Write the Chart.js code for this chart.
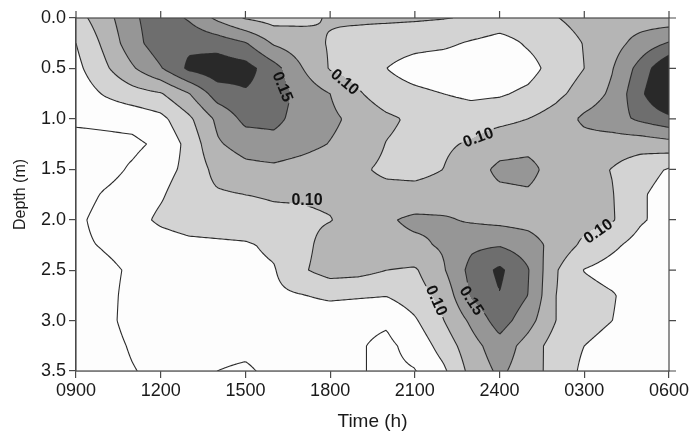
<!DOCTYPE html>
<html>
<head>
<meta charset="utf-8">
<script src="https://cdn.jsdelivr.net/npm/chart.js@4.4.1/dist/chart.umd.min.js"></script>
<style>
  html, body { margin: 0; padding: 0; background: #fff; }
  #wrap { width: 696px; height: 437px; }
</style>
</head>
<body>
<div id="wrap"><canvas id="chart" width="696" height="437"></canvas></div>
<script>
// Grid nodes (time in hours from 0900, depth in m)
const hours = [9, 10, 11, 12, 13, 14, 15, 16, 17, 18, 19, 20, 21, 22, 23, 24, 25, 26, 27, 28, 29, 30];
const depths = [0, 0.25, 0.5, 0.75, 1.0, 1.25, 1.5, 1.75, 2.0, 2.25, 2.5, 2.75, 3.0, 3.25, 3.5];

// Values, one row per depth
const d000 = [0.090, 0.114, 0.145, 0.165, 0.147, 0.120, 0.098, 0.090, 0.095, 0.102, 0.104, 0.104, 0.103, 0.101, 0.098, 0.090, 0.092, 0.099, 0.108, 0.115, 0.112, 0.110];
const d025 = [0.075, 0.105, 0.140, 0.165, 0.170, 0.165, 0.152, 0.122, 0.110, 0.098, 0.090, 0.085, 0.082, 0.080, 0.072, 0.065, 0.078, 0.088, 0.101, 0.115, 0.135, 0.152];
const d050 = [0.068, 0.095, 0.122, 0.148, 0.180, 0.190, 0.185, 0.160, 0.126, 0.098, 0.088, 0.075, 0.065, 0.060, 0.060, 0.060, 0.066, 0.085, 0.100, 0.124, 0.160, 0.200];
const d075 = [0.060, 0.077, 0.090, 0.098, 0.124, 0.162, 0.172, 0.165, 0.140, 0.125, 0.103, 0.085, 0.080, 0.075, 0.070, 0.072, 0.080, 0.094, 0.110, 0.130, 0.170, 0.210];
const d100 = [0.055, 0.056, 0.058, 0.068, 0.095, 0.130, 0.157, 0.158, 0.138, 0.130, 0.118, 0.105, 0.095, 0.090, 0.088, 0.093, 0.100, 0.110, 0.130, 0.140, 0.155, 0.168];
const d125 = [0.040, 0.043, 0.045, 0.055, 0.083, 0.122, 0.135, 0.140, 0.133, 0.124, 0.115, 0.099, 0.092, 0.096, 0.103, 0.115, 0.118, 0.115, 0.115, 0.112, 0.110, 0.115];
const d150 = [0.035, 0.042, 0.053, 0.065, 0.082, 0.108, 0.118, 0.120, 0.115, 0.110, 0.104, 0.095, 0.093, 0.100, 0.115, 0.130, 0.132, 0.115, 0.108, 0.099, 0.085, 0.073];
const d175 = [0.040, 0.052, 0.060, 0.072, 0.090, 0.097, 0.100, 0.102, 0.103, 0.105, 0.108, 0.108, 0.108, 0.110, 0.118, 0.120, 0.122, 0.115, 0.110, 0.101, 0.078, 0.065];
const d200 = [0.045, 0.058, 0.065, 0.080, 0.088, 0.090, 0.092, 0.095, 0.095, 0.099, 0.110, 0.122, 0.130, 0.128, 0.122, 0.118, 0.115, 0.110, 0.108, 0.102, 0.078, 0.065];
const d225 = [0.045, 0.052, 0.058, 0.062, 0.068, 0.070, 0.072, 0.080, 0.093, 0.110, 0.115, 0.118, 0.120, 0.128, 0.145, 0.148, 0.138, 0.115, 0.095, 0.080, 0.065, 0.058];
const d250 = [0.035, 0.045, 0.053, 0.058, 0.062, 0.065, 0.068, 0.073, 0.097, 0.110, 0.108, 0.100, 0.097, 0.122, 0.158, 0.180, 0.152, 0.102, 0.074, 0.065, 0.058, 0.055];
const d275 = [0.035, 0.045, 0.055, 0.060, 0.063, 0.065, 0.067, 0.070, 0.074, 0.080, 0.078, 0.076, 0.088, 0.108, 0.153, 0.174, 0.150, 0.100, 0.085, 0.077, 0.062, 0.055];
const d300 = [0.035, 0.045, 0.056, 0.058, 0.060, 0.060, 0.060, 0.060, 0.060, 0.058, 0.055, 0.053, 0.072, 0.099, 0.130, 0.162, 0.135, 0.100, 0.085, 0.075, 0.062, 0.058];
const d325 = [0.035, 0.043, 0.052, 0.058, 0.058, 0.056, 0.055, 0.058, 0.060, 0.057, 0.052, 0.045, 0.058, 0.085, 0.115, 0.140, 0.115, 0.088, 0.075, 0.065, 0.060, 0.058];
const d350 = [0.035, 0.042, 0.049, 0.055, 0.055, 0.050, 0.047, 0.055, 0.058, 0.056, 0.052, 0.045, 0.049, 0.070, 0.108, 0.130, 0.112, 0.090, 0.070, 0.065, 0.060, 0.058];
const rows = [d000, d025, d050, d075, d100, d125, d150, d175, d200, d225, d250, d275, d300, d325, d350];

const levels = [0.05, 0.075, 0.10, 0.125, 0.15, 0.175];
const timeTicks = [9, 12, 15, 18, 21, 24, 27, 30];
const depthTicks = [0, 0.5, 1.0, 1.5, 2.0, 2.5, 3.0, 3.5];

// contour labels: text, time (h), depth (m)
const labelText = ["0.15", "0.10", "0.10", "0.10", "0.10", "0.10", "0.15"];
const labelTime = [16.33, 18.53, 23.24, 17.18, 27.48, 21.78, 23.02];
const labelDepth = [0.68, 0.63, 1.18, 1.80, 2.11, 2.80, 2.80];

// styles
const bandColors = ["#fdfdfd", "#fdfdfd", "#d3d3d3", "#b5b5b5", "#969696", "#6e6e6e", "#292929"];
const labelAngle = [68, 40, -20, 0, -35, 66, 57];
const lineColor = "#2b2b2b";
const axisColor = "#4a4a4a";
const textColor = "#1a1a1a";
const fontFamily = "Arial, 'Liberation Sans', sans-serif";

function findCell(arr, v) {
  let k = 0;
  while (k < arr.length - 2 && v > arr[k + 1]) k++;
  return k;
}

function valueAt(h, d) {
  const i = findCell(hours, h);
  const j = findCell(depths, d);
  let tx = (h - hours[i]) / (hours[i + 1] - hours[i]);
  let ty = (d - depths[j]) / (depths[j + 1] - depths[j]);
  tx = Math.max(0, Math.min(1, tx));
  ty = Math.max(0, Math.min(1, ty));
  const r0 = rows[j], r1 = rows[j + 1];
  const top = r0[i] * (1 - tx) + r0[i + 1] * tx;
  const bot = r1[i] * (1 - tx) + r1[i + 1] * tx;
  return top * (1 - ty) + bot * ty;
}

function hexToRgb(hex) {
  const n = parseInt(hex.slice(1), 16);
  return [(n >> 16) & 255, (n >> 8) & 255, n & 255];
}

function bandOf(v) {
  let b = 0;
  while (b < levels.length && v >= levels[b]) b++;
  return b;
}

// Filled contours + contour lines + labels, drawn through the chart scales
const contourPlugin = {
  id: "contour",
  beforeDatasetsDraw(chart) {
    const ctx = chart.ctx;
    const area = chart.chartArea;
    const xs = chart.scales.x, ys = chart.scales.y;
    const W = Math.round(area.right - area.left);
    const H = Math.round(area.bottom - area.top);

    // per pixel band fill
    const off = document.createElement("canvas");
    off.width = W; off.height = H;
    const octx = off.getContext("2d");
    const img = octx.createImageData(W, H);
    const rgb = bandColors.map(hexToRgb);
    const colH = [];
    for (let i = 0; i < W; i++) colH.push(xs.getValueForPixel(area.left + i + 0.5));
    for (let j = 0; j < H; j++) {
      const d = ys.getValueForPixel(area.top + j + 0.5);
      for (let i = 0; i < W; i++) {
        const c = rgb[bandOf(valueAt(colH[i], d))];
        const p = (j * W + i) * 4;
        img.data[p] = c[0]; img.data[p + 1] = c[1]; img.data[p + 2] = c[2]; img.data[p + 3] = 255;
      }
    }
    octx.putImageData(img, 0, 0);
    ctx.drawImage(off, area.left, area.top);

    // label boxes (kept free of contour lines)
    ctx.font = "bold 16px " + fontFamily;
    const boxes = labelText.map((t, k) => {
      const w = ctx.measureText(t).width + 4;
      const h = 14;
      return {
        t, w, h,
        cx: xs.getPixelForValue(labelTime[k]),
        cy: ys.getPixelForValue(labelDepth[k]),
        a: labelAngle[k] * Math.PI / 180
      };
    });

    // contour lines by marching squares on a fine pixel lattice
    const step = 2;
    const px = [], py = [];
    for (let x = area.left; x < area.right; x += step) px.push(x);
    px.push(area.right);
    for (let y = area.top; y < area.bottom; y += step) py.push(y);
    py.push(area.bottom);
    const vals = py.map(y => {
      const d = ys.getValueForPixel(y);
      return px.map(x => valueAt(xs.getValueForPixel(x), d));
    });

    ctx.save();
    ctx.beginPath();
    ctx.rect(area.left, area.top, area.right - area.left, area.bottom - area.top);
    boxes.forEach(b => {
      const ca = Math.cos(b.a), sa = Math.sin(b.a);
      const pts = [[-b.w / 2, -b.h / 2], [b.w / 2, -b.h / 2], [b.w / 2, b.h / 2], [-b.w / 2, b.h / 2]]
        .map(([u, v]) => [b.cx + u * ca - v * sa, b.cy + u * sa + v * ca]);
      ctx.moveTo(pts[0][0], pts[0][1]);
      for (let k = 1; k < 4; k++) ctx.lineTo(pts[k][0], pts[k][1]);
      ctx.closePath();
    });
    ctx.clip("evenodd");

    ctx.beginPath();
    levels.forEach(L => {
      for (let r = 0; r < py.length - 1; r++) {
        for (let c = 0; c < px.length - 1; c++) {
          const a = vals[r][c], b = vals[r][c + 1], e = vals[r + 1][c + 1], f = vals[r + 1][c];
          const idx = (a >= L ? 8 : 0) | (b >= L ? 4 : 0) | (e >= L ? 2 : 0) | (f >= L ? 1 : 0);
          if (idx === 0 || idx === 15) continue;
          const x0 = px[c], x1 = px[c + 1], y0 = py[r], y1 = py[r + 1];
          const T = [x0 + (L - a) / (b - a) * (x1 - x0), y0];
          const R = [x1, y0 + (L - b) / (e - b) * (y1 - y0)];
          const B = [x0 + (L - f) / (e - f) * (x1 - x0), y1];
          const Lf = [x0, y0 + (L - a) / (f - a) * (y1 - y0)];
          const centerHigh = (a + b + e + f) / 4 >= L;
          let segs = [];
          switch (idx) {
            case 1: case 14: segs = [[Lf, B]]; break;
            case 2: case 13: segs = [[B, R]]; break;
            case 3: case 12: segs = [[Lf, R]]; break;
            case 4: case 11: segs = [[T, R]]; break;
            case 6: case 9: segs = [[T, B]]; break;
            case 7: case 8: segs = [[T, Lf]]; break;
            case 5: segs = centerHigh ? [[T, Lf], [B, R]] : [[T, R], [Lf, B]]; break;
            case 10: segs = centerHigh ? [[T, R], [Lf, B]] : [[T, Lf], [B, R]]; break;
          }
          segs.forEach(s => { ctx.moveTo(s[0][0], s[0][1]); ctx.lineTo(s[1][0], s[1][1]); });
        }
      }
    });
    ctx.strokeStyle = lineColor;
    ctx.lineWidth = 1.1;
    ctx.lineCap = "round";
    ctx.stroke();
    ctx.restore();

    // label text
    ctx.save();
    ctx.fillStyle = "#111";
    ctx.textAlign = "center";
    ctx.textBaseline = "middle";
    boxes.forEach(b => {
      ctx.save();
      ctx.translate(b.cx, b.cy);
      ctx.rotate(b.a);
      ctx.fillText(b.t, 0, 1);
      ctx.restore();
    });
    ctx.restore();
  },
  afterDraw(chart) {
    // frame plus outward ticks on top and right
    const ctx = chart.ctx;
    const area = chart.chartArea;
    const xs = chart.scales.x, ys = chart.scales.y;
    ctx.save();
    ctx.strokeStyle = axisColor;
    ctx.lineWidth = 1.2;
    ctx.strokeRect(area.left, area.top, area.right - area.left, area.bottom - area.top);
    ctx.beginPath();
    xs.ticks.forEach(t => {
      const x = xs.getPixelForValue(t.value);
      ctx.moveTo(x, area.top); ctx.lineTo(x, area.top - 7);
    });
    ys.ticks.forEach(t => {
      const y = ys.getPixelForValue(t.value);
      ctx.moveTo(area.right, y); ctx.lineTo(area.right + 7, y);
    });
    ctx.stroke();
    ctx.restore();
  }
};

const tickFont = { family: fontFamily, size: 18 };

new Chart(document.getElementById("chart"), {
  type: "scatter",
  data: { datasets: [{ data: [], showLine: false }] },
  options: {
    responsive: false,
    animation: false,
    devicePixelRatio: 1,
    layout: { padding: { top: 18, right: 27, left: 0, bottom: 0 } },
    plugins: { legend: { display: false }, tooltip: { enabled: false } },
    scales: {
      x: {
        type: "linear",
        min: 9,
        max: 30,
        afterBuildTicks: s => { s.ticks = timeTicks.map(v => ({ value: v })); },
        afterFit: s => { s.height = 66; },
        ticks: {
          color: textColor,
          font: tickFont,
          padding: 2,
          maxRotation: 0,
          callback: v => String((v > 24 ? v - 24 : v) * 100).padStart(4, "0")
        },
        grid: { drawOnChartArea: false, drawTicks: true, tickLength: 7, color: axisColor, lineWidth: 1.2 },
        border: { display: true, color: axisColor, width: 1.2 },
        title: {
          display: true,
          text: "Time (h)",
          color: textColor,
          font: { family: fontFamily, size: 19 },
          padding: { top: 0, bottom: 4 }
        }
      },
      y: {
        type: "linear",
        reverse: true,
        min: 0,
        max: 3.5,
        afterBuildTicks: s => { s.ticks = depthTicks.map(v => ({ value: v })); },
        afterFit: s => { s.width = 76; },
        ticks: {
          color: textColor,
          font: tickFont,
          padding: 3,
          callback: v => v.toFixed(1)
        },
        grid: { drawOnChartArea: false, drawTicks: true, tickLength: 7, color: axisColor, lineWidth: 1.2 },
        border: { display: true, color: axisColor, width: 1.2 },
        title: {
          display: true,
          text: "Depth (m)",
          color: textColor,
          font: { family: fontFamily, size: 16 },
          padding: { top: 11, bottom: 0 }
        }
      }
    }
  },
  plugins: [contourPlugin]
});
</script>
</body>
</html>
